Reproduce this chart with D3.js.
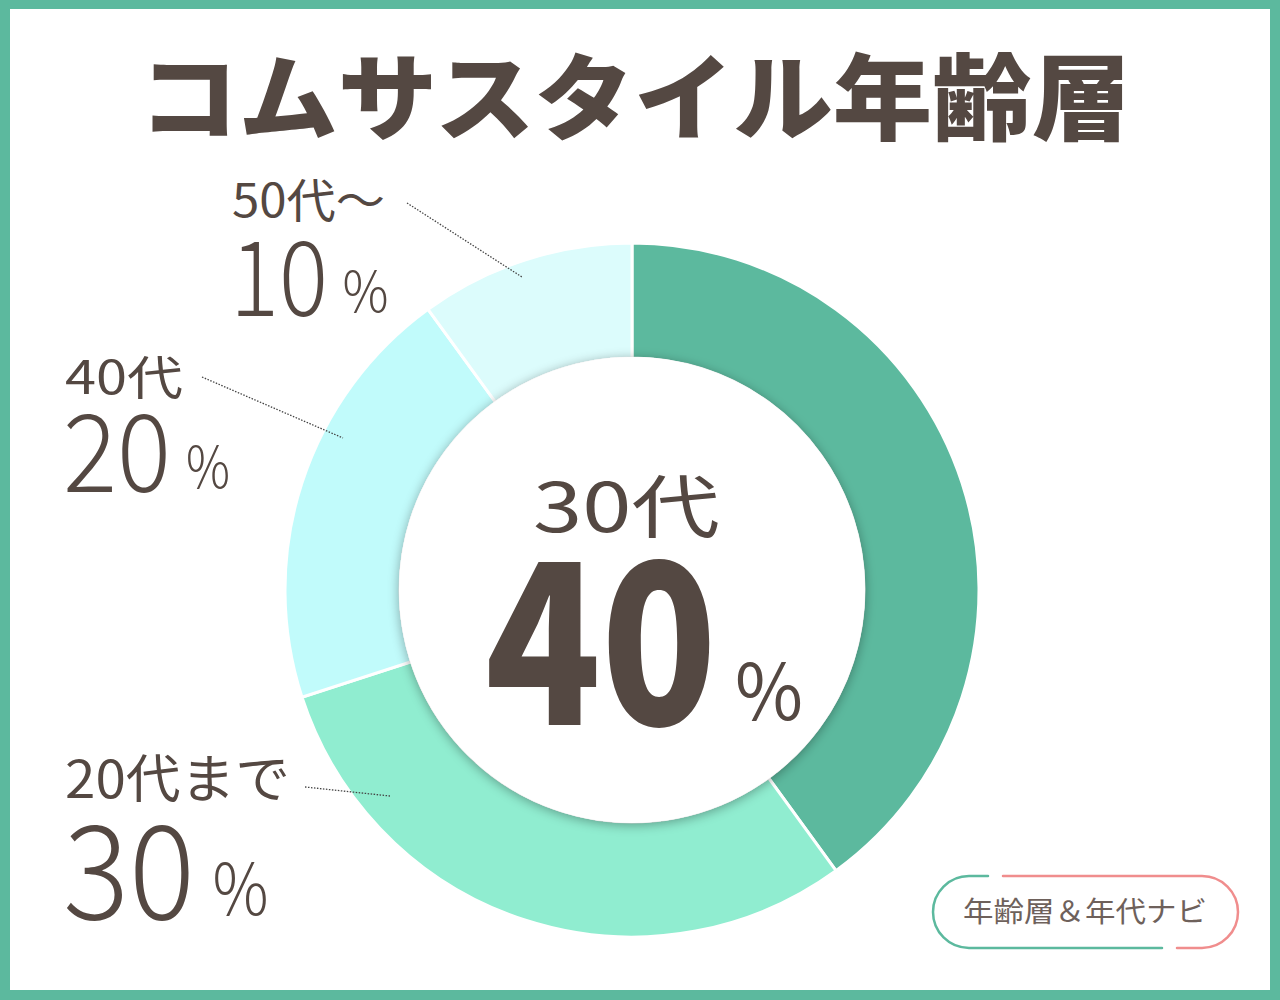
<!DOCTYPE html>
<html><head><meta charset="utf-8">
<script src="https://cdn.jsdelivr.net/npm/d3@7"></script>
<style>
html,body{margin:0;padding:0;background:#fff;}
svg{display:block;}
</style></head>
<body>
<svg id="c" width="1280" height="1000"></svg>
<script>
const title = "コムサスタイル年齢層";
const categories = ["30代", "20代まで", "40代", "50代～"];
const values = [40, 30, 20, 10];
const colors = ["#5cb99e", "#90edd0", "#c1fbfb", "#dcfcfc"];
const logoText = "年齢層＆年代ナビ";

const ink = "#544842";
const svg = d3.select("#c");
const W = 1280, H = 1000;
const defs = svg.append("defs");
const f = defs.append("filter").attr("id","sh").attr("x","-20%").attr("y","-20%").attr("width","140%").attr("height","140%");
f.append("feGaussianBlur").attr("in","SourceAlpha").attr("stdDeviation",6).attr("result","b");
f.append("feOffset").attr("in","b").attr("dx",0).attr("dy",2).attr("result","o");
f.append("feComponentTransfer").attr("in","o").attr("result","t").append("feFuncA").attr("type","linear").attr("slope",0.35);
const fm = f.append("feMerge"); fm.append("feMergeNode").attr("in","t"); fm.append("feMergeNode").attr("in","SourceGraphic");

// frame
svg.append("rect").attr("x",0).attr("y",0).attr("width",W).attr("height",H).attr("fill","#5cb99e");
svg.append("rect").attr("x",10).attr("y",9).attr("width",1260).attr("height",981).attr("fill","#fff");

// title
svg.append("text").text(title)
  .attr("x",139).attr("y",133)
  .attr("textLength",992).attr("lengthAdjust","spacingAndGlyphs")
  .attr("font-family","'Noto Sans CJK JP'").attr("font-weight",900)
  .attr("font-size",94).attr("fill",ink);

// donut
const cx = 632, cy = 590, R = 347, r = 232;
const pie = d3.pie().sort(null).value(d=>d)(values);
const arc = d3.arc().innerRadius(r).outerRadius(R);
const g = svg.append("g").attr("transform",`translate(${cx},${cy})`);
g.selectAll("path").data(pie).join("path")
  .attr("d",arc).attr("fill",(d,i)=>colors[i])
  .attr("stroke","#fff").attr("stroke-width",3);
g.append("circle").attr("r",r+1).attr("fill","#fff").attr("filter","url(#sh)");

// center label
const fontJP = "'Noto Sans CJK JP'";
g.append("text").text(categories[0]).attr("x",-99).attr("y",-58)
  .attr("textLength",187).attr("lengthAdjust","spacingAndGlyphs")
  .attr("font-family",fontJP).attr("font-size",68).attr("fill",ink);
g.append("text").text(values[0]).attr("x",-147).attr("y",135)
  .attr("textLength",232).attr("lengthAdjust","spacingAndGlyphs")
  .attr("font-family",fontJP).attr("font-weight",900).attr("font-size",224).attr("fill",ink);
g.append("text").text("%").attr("x",103).attr("y",130)
  .attr("textLength",68).attr("lengthAdjust","spacingAndGlyphs")
  .attr("font-family",fontJP).attr("font-weight",400).attr("font-size",78).attr("fill",ink);

// side labels
const labelPos = [null,
  {x:65, w1:225, y1:798, y2:919, s1:52, s2:130, w2:132, p:72, pw:56, line:[[305,787],[390,796]]},
  {x:65, w1:118, y1:394, y2:492, s1:46, s2:108, w2:108, p:58, pw:44, line:[[202,377],[343,438]]},
  {x:232, w1:153, y1:217, y2:316, s1:46, s2:104, w2:98, p:56, pw:46, line:[[407,203],[522,277]]}
];
for (let i=1;i<categories.length;i++){
  const L = labelPos[i];
  svg.append("text").text(categories[i]).attr("x",L.x).attr("y",L.y1)
    .attr("textLength",L.w1).attr("lengthAdjust","spacingAndGlyphs")
    .attr("font-family",fontJP).attr("font-size",L.s1).attr("fill",ink);
  svg.append("text").text(values[i]).attr("x",L.x-2).attr("y",L.y2)
    .attr("textLength",L.w2).attr("lengthAdjust","spacingAndGlyphs")
    .attr("font-family",fontJP).attr("font-size",L.s2).attr("font-weight",300).attr("fill",ink);
  svg.append("text").text("%").attr("x",L.x+L.w2+L.s2*0.12).attr("y",L.y2-4)
    .attr("textLength",L.pw).attr("lengthAdjust","spacingAndGlyphs")
    .attr("font-family",fontJP).attr("font-size",L.p).attr("font-weight",300).attr("fill",ink);
  svg.append("line").attr("x1",L.line[0][0]).attr("y1",L.line[0][1]).attr("x2",L.line[1][0]).attr("y2",L.line[1][1])
    .attr("stroke","#444").attr("stroke-width",1.3).attr("stroke-dasharray","1.5,1.5");
}

// logo pill
const lx=933, ly=876, lw=305, lh=72, lr=36;
const pill = svg.append("g").attr("fill","none").attr("stroke-width",2.5).attr("stroke-linecap","round");
pill.append("path").attr("stroke","#5cb99e")
  .attr("d",`M988,${ly} L${lx+lr},${ly} A${lr},${lr} 0 0 0 ${lx+lr},${ly+lh} L1162,${ly+lh}`);
pill.append("path").attr("stroke","#f08d8d")
  .attr("d",`M1003,${ly} L${lx+lw-lr},${ly} A${lr},${lr} 0 0 1 ${lx+lw-lr},${ly+lh} L1177,${ly+lh}`);
svg.append("text").text(logoText).attr("x",963).attr("y",ly+lh/2+10)
  .attr("textLength",244).attr("lengthAdjust","spacingAndGlyphs")
  .attr("font-family",fontJP).attr("font-size",28)
  .attr("fill","#6e615b");
</script>
</body></html>
